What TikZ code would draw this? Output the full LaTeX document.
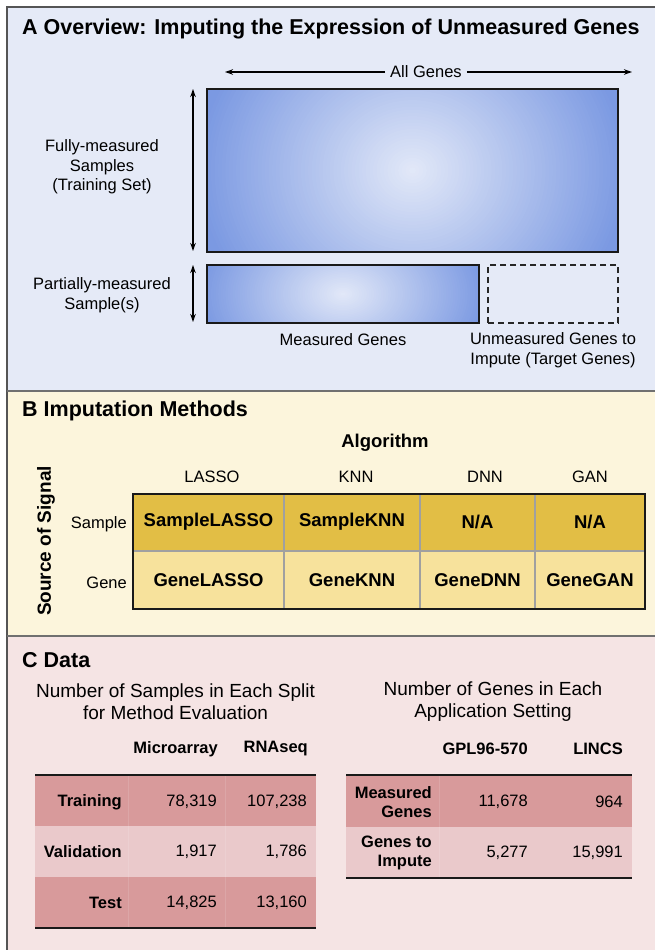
\documentclass[tikz,border=0pt]{standalone}
\usepackage{fontspec}
\setmainfont{Liberation Sans}
\usetikzlibrary{arrows.meta}
\definecolor{panelA}{HTML}{E5EAF7}
\definecolor{panelB}{HTML}{FCF5DC}
\definecolor{panelC}{HTML}{F5E4E4}
\definecolor{framecol}{HTML}{555555}
\definecolor{divcol}{HTML}{707070}
\definecolor{goldDark}{HTML}{E2BE45}
\definecolor{goldLight}{HTML}{F7E29C}
\definecolor{roseDark}{HTML}{D89A9B}
\definecolor{roseLight}{HTML}{EAC9CB}
\definecolor{blueLight}{HTML}{E3E9F8}
\definecolor{blueDark}{HTML}{7B99E2}
\definecolor{gridcol}{HTML}{A0A0A0}
\begin{document}
\begin{tikzpicture}[x=1pt,y=-1pt,
  ttl/.style={font=\fontsize{21.5}{24}\selectfont\bfseries, anchor=west, inner sep=0pt},
  lbl/.style={font=\fontsize{16.5}{19.5}\selectfont, align=center, inner sep=0pt},
  sub/.style={font=\fontsize{19}{22}\selectfont, align=center, inner sep=0pt},
  cell/.style={font=\fontsize{18.5}{22}\selectfont\bfseries, inner sep=0pt},
  hdr/.style={font=\fontsize{16.5}{19.5}\selectfont\bfseries, inner sep=0pt},
  rlab/.style={font=\fontsize{16.5}{19.5}\selectfont\bfseries, align=right, inner sep=0pt, anchor=east},
  num/.style={font=\fontsize{16.5}{19.5}\selectfont, inner sep=0pt, anchor=east},
  arr/.style={line width=1.2pt, -{Stealth[length=8pt,width=5.5pt]}},
  darr/.style={line width=1.2pt, {Stealth[length=8pt,width=5.5pt]}-{Stealth[length=8pt,width=5.5pt]}},
  box/.style={line width=2pt, draw=black!90},
  rule/.style={line width=2pt, black!90}]
\useasboundingbox (0,0) rectangle (655,950);
\fill[white] (0,0) rectangle (655,950);
% panels
\fill[panelA] (7,7) rectangle (655,391);
\fill[panelB] (7,391) rectangle (655,636);
\fill[panelC] (7,636) rectangle (655,950);
\draw[line width=1.5pt, framecol] (7,950) -- (7,7) -- (655,7);
\draw[line width=2.5pt, divcol] (7,391) -- (655,391);
\draw[line width=2.5pt, divcol] (7,636) -- (655,636);

% ---------- Panel A ----------
\node[ttl] (tA) at (22,29) {A Overview: Imputing the Expression of Unmeasured Genes};
\node[lbl, inner sep=5pt] (allg) at (426,72) {All Genes};
\coordinate (agl) at (225,72);
\coordinate (agr) at (632,72);
\draw[arr] (allg.west) -- (agl);
\draw[arr] (allg.east) -- (agr);

\begin{scope}
  \clip (207,89) rectangle (618,252);
  \fill[blueDark] (207,89) rectangle (618,252);
  \foreach \i in {60,59,...,1} {
    \pgfmathsetmacro{\p}{100*\i/60}
    \fill[blueDark!\p!blueLight] (412.5,170.5) ellipse [x radius={3.6*\i}, y radius={3.2*\i}];
  }
\end{scope}
\node[box, minimum width=411pt, minimum height=163pt, inner sep=0pt] (big) at (412.5,170.5) {};

\begin{scope}
  \clip (207,265) rectangle (479,323);
  \fill[blueDark] (207,265) rectangle (479,323);
  \foreach \i in {60,59,...,1} {
    \pgfmathsetmacro{\p}{100*\i/60}
    \fill[blueDark!\p!blueLight] (343,294) ellipse [x radius={2.4*\i}, y radius={1.6*\i}];
  }
\end{scope}
\node[box, minimum width=272pt, minimum height=58pt, inner sep=0pt] (meas) at (343,294) {};
\node[line width=1.5pt, draw=black!85, dash pattern=on 6pt off 4pt, minimum width=130pt, minimum height=58pt, inner sep=0pt] (unmeas) at (553,294) {};

\coordinate (fa1) at (193,89);
\coordinate (fa2) at (193,251);
\draw[darr] (fa1) -- (fa2);
\coordinate (pa1) at (193,265);
\coordinate (pa2) at (193,322);
\draw[darr] (pa1) -- (pa2);

\node[lbl] (fully) at (102,167) {Fully-measured\\Samples\\(Training Set)};
\node[lbl] (partial) at (102,295) {Partially-measured\\Sample(s)};
\node[lbl] (measlab) at (343,340) {Measured Genes};
\node[lbl] (unmeaslab) at (553,350) {Unmeasured Genes to\\Impute (Target Genes)};

% ---------- Panel B ----------
\node[ttl] (tB) at (22,411) {B Imputation Methods};
\node[font=\fontsize{18.5}{22}\selectfont\bfseries, inner sep=0pt] (algo) at (385,443) {Algorithm};
\node[lbl] (hL) at (212,477) {LASSO};
\node[lbl] (hK) at (356,477) {KNN};
\node[lbl] (hD) at (485,477) {DNN};
\node[lbl] (hG) at (590,477) {GAN};
\node[font=\fontsize{19}{22}\selectfont\bfseries, inner sep=0pt, rotate=90] (src) at (46,541) {Source of Signal};
\node[lbl, anchor=east] (rS) at (127,524) {Sample};
\node[lbl, anchor=east] (rG) at (127,583) {Gene};

\fill[goldDark] (133,494) rectangle (645,551);
\fill[goldLight] (133,551) rectangle (645,609);
\draw[gridcol, line width=1.5pt] (133,551) -- (645,551);
\foreach \cx in {284,420,535} \draw[gridcol, line width=1.5pt] (\cx,494) -- (\cx,609);
\draw[box] (133,494) rectangle (645,609);

\node[cell] (c11) at (208.5,522) {SampleLASSO};
\node[cell] (c12) at (352,522) {SampleKNN};
\node[cell] (c13) at (477.5,522) {N/A};
\node[cell] (c14) at (590,522) {N/A};
\node[cell] (c21) at (208.5,580) {GeneLASSO};
\node[cell] (c22) at (352,580) {GeneKNN};
\node[cell] (c23) at (477.5,580) {GeneDNN};
\node[cell] (c24) at (590,580) {GeneGAN};

% ---------- Panel C ----------
\node[ttl] (tC) at (22,660) {C Data};
\node[sub] (subL) at (175.5,702) {Number of Samples in Each Split\\for Method Evaluation};
\node[sub] (subR) at (493,702) {Number of Genes in Each\\Application Setting};

% left table
\fill[roseDark] (35,775) rectangle (316,826);
\fill[roseLight] (35,826) rectangle (316,877);
\fill[roseDark] (35,877) rectangle (316,928);
\foreach \cx in {128,225} \draw[white, opacity=0.12, line width=1pt] (\cx,775) -- (\cx,928);
\draw[rule] (35,775) -- (316,775);
\draw[rule] (35,928) -- (316,928);
\node[hdr, anchor=east] (hMA) at (218,749) {Microarray};
\node[hdr, anchor=east] (hRS) at (308,749) {RNAseq};
\node[rlab] (lTr) at (122,802) {Training};
\node[rlab] (lVa) at (122,852) {Validation};
\node[rlab] (lTe) at (122,903) {Test};
\node[num] (n11) at (217,802) {78,319};
\node[num] (n12) at (307,802) {107,238};
\node[num] (n21) at (217,852) {1,917};
\node[num] (n22) at (307,852) {1,786};
\node[num] (n31) at (217,903) {14,825};
\node[num] (n32) at (307,903) {13,160};

% right table
\fill[roseDark] (346,775) rectangle (632,827);
\fill[roseLight] (346,827) rectangle (632,878);
\draw[white, opacity=0.12, line width=1pt] (439,775) -- (439,878);
\draw[rule] (346,775) -- (632,775);
\draw[rule] (346,878) -- (632,878);
\node[hdr, anchor=east] (hGPL) at (528,749) {GPL96-570};
\node[hdr, anchor=east] (hLI) at (623,749) {LINCS};
\node[rlab] (lMG) at (432,802) {Measured\\Genes};
\node[rlab] (lGI) at (432,853) {Genes to\\Impute};
\node[num] (m11) at (528,802) {11,678};
\node[num] (m12) at (623,802) {964};
\node[num] (m21) at (528,853) {5,277};
\node[num] (m22) at (623,853) {15,991};
\end{tikzpicture}
\end{document}
